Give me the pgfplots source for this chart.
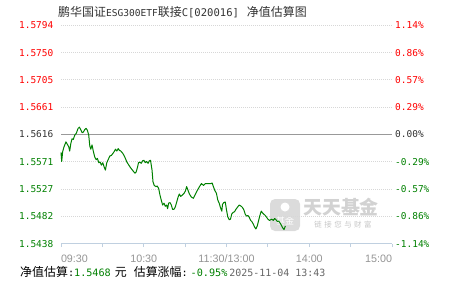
\documentclass[border=0pt]{standalone}
\usepackage{pgfplots}
\pgfplotsset{compat=1.18}
\usepackage{pgfplotstable}
\usepackage{fontspec}
\newfontfamily\cjk{Noto Sans CJK SC}
\newfontfamily\mono{DejaVu Sans Mono}
\newfontfamily\arial{Liberation Sans}
\definecolor{upred}{RGB}{255,0,0}
\definecolor{dngreen}{RGB}{0,128,0}
\definecolor{basecol}{RGB}{51,51,51}
\definecolor{axiscol}{RGB}{192,208,224}
\definecolor{gridcol}{RGB}{215,215,215}
\pgfplotstableread{
m v
0.0 1.5587
0.5 1.5572
1.2 1.5588
2.2 1.5596
3.6 1.5604
4.6 1.5600
5.6 1.5596
6.3 1.5589
7.1 1.5601
8.0 1.5609
8.9 1.5608
10.0 1.5615
11.1 1.5618
12.4 1.5626
13.3 1.5628
14.3 1.5624
15.3 1.5619
16.2 1.5620
17.2 1.5624
18.2 1.5626
19.1 1.5623
20.1 1.5615
20.9 1.5597
21.6 1.5592
22.5 1.5599
23.5 1.5588
24.5 1.5579
25.5 1.5575
26.4 1.5577
27.4 1.5570
28.4 1.5571
29.3 1.5566
30.3 1.5570
31.3 1.5563
32.2 1.5558
33.2 1.5570
34.2 1.5575
35.4 1.5581
36.6 1.5582
37.6 1.5585
38.5 1.5588
39.5 1.5592
40.5 1.5589
41.5 1.5593
42.4 1.5590
43.4 1.5589
44.9 1.5585
46.3 1.5579
47.8 1.5571
49.2 1.5566
50.7 1.5561
52.1 1.5557
53.6 1.5553
54.5 1.5555
55.5 1.5563
56.2 1.5570
57.2 1.5571
58.2 1.5569
59.1 1.5573
60.1 1.5574
61.1 1.5570
62.0 1.5572
63.1 1.5569
64.0 1.5573
64.9 1.5574
66.0 1.5558
66.7 1.5539
67.6 1.5533
68.9 1.5531
69.8 1.5532
70.8 1.5528
71.8 1.5517
72.7 1.5509
73.7 1.5501
74.7 1.5504
75.6 1.5499
76.6 1.5501
77.3 1.5495
78.0 1.5504
79.1 1.5505
80.0 1.5501
80.9 1.5494
81.9 1.5494
82.9 1.5498
83.9 1.5506
84.9 1.5514
85.8 1.5519
86.8 1.5515
87.8 1.5517
89.2 1.5520
90.2 1.5524
91.1 1.5531
92.1 1.5525
93.1 1.5519
94.5 1.5514
96.0 1.5512
97.5 1.5519
98.9 1.5525
100.4 1.5531
101.8 1.5536
103.3 1.5533
104.7 1.5536
106.7 1.5536
108.6 1.5536
109.6 1.5537
110.5 1.5531
111.5 1.5525
112.7 1.5520
113.7 1.5509
114.7 1.5504
115.6 1.5497
116.6 1.5491
117.1 1.5502
118.0 1.5505
119.1 1.5506
120.0 1.5493
120.9 1.5482
122.0 1.5477
122.9 1.5478
123.9 1.5487
124.9 1.5489
125.8 1.5490
126.8 1.5494
127.8 1.5497
129.2 1.5501
130.7 1.5499
131.6 1.5497
132.6 1.5493
133.6 1.5486
134.5 1.5483
135.5 1.5484
136.5 1.5481
137.5 1.5476
138.4 1.5474
139.4 1.5470
140.4 1.5465
141.3 1.5462
142.3 1.5467
143.3 1.5476
144.2 1.5484
145.2 1.5491
146.2 1.5488
147.1 1.5486
148.1 1.5484
149.1 1.5481
150.0 1.5478
151.1 1.5476
152.0 1.5477
152.9 1.5478
153.9 1.5476
154.9 1.5479
155.9 1.5477
156.9 1.5474
157.8 1.5475
158.8 1.5472
159.8 1.5468
160.7 1.5464
161.7 1.5461
162.7 1.5467
}\navdata
\begin{document}
\begin{tikzpicture}[x=1bp,y=1bp]
\path[use as bounding box] (0,0) rectangle (451,281);
% title
\node[anchor=west, inner sep=0pt, text=basecol] at (58,269)
  {\cjk\fontsize{12}{12}\selectfont 鹏华国证{\mono\fontsize{9.6}{12}\selectfont ESG300ETF}联接{\mono\fontsize{10.6}{12}\selectfont C[020016]}\hspace{8bp}净值估算图};
% watermark
\fill[gray!40, rounded corners=5bp, opacity=0.7] (270,50) rectangle (300,82);
\fill[white] (285,74) circle (4.5bp);
\node[text=white, inner sep=0pt] at (285,60) {\cjk\fontsize{9}{9}\selectfont 基金};
\node[text=gray!35, inner sep=0pt] at (341,74) {\cjk\bfseries\fontsize{19}{19}\selectfont 天天基金};
\node[text=gray!45, inner sep=0pt] at (343,56) {\cjk\fontsize{7.5}{8}\selectfont 链\,\,接\,\,您\,\,与\,\,财\,\,富};
\begin{axis}[
  at={(61bp,37.3bp)}, anchor=south west,
  scale only axis, width=331bp, height=218.4bp,
  xmin=0, xmax=240,
  ymin=1.5437976, ymax=1.5794024,
  axis lines*=left,
  y axis line style={draw=none},
  x axis line style={draw=axiscol, line width=0.8bp, -},
  xtick={0,30,...,240},
  xticklabels={\rlap{09:30},,10:30,,11:30/13:00,,14:00,,\llap{15:00}},
  xticklabel style={font=\arial\fontsize{10.8}{11}\selectfont, text=black!42, anchor=base, inner sep=0pt, yshift=-15bp},
  tick align=outside,
  xtick style={draw=axiscol, line width=0.8bp},
  major tick length=3.5bp,
  ytick={1.5437976,1.5482482,1.5526988,1.5571494,1.5660506,1.5705012,1.5749518,1.5794024},
  yticklabels={\textcolor{dngreen}{1.5438},\textcolor{dngreen}{1.5482},\textcolor{dngreen}{1.5527},\textcolor{dngreen}{1.5571},\textcolor{upred}{1.5661},\textcolor{upred}{1.5705},\textcolor{upred}{1.5750},\textcolor{upred}{1.5794}},
  yticklabel style={font=\mono\fontsize{9.5}{10}\selectfont, anchor=east, inner sep=0pt, xshift=-4bp},
  ytick style={draw=none},
  ymajorgrids,
  major grid style={draw=gridcol, line width=0.8bp, dash pattern=on 1bp off 1bp},
  extra y ticks={1.5616},
  extra y tick labels={\textcolor{basecol}{1.5616}},
  extra y tick style={grid=major, major grid style={draw=black!40, solid, line width=1bp}, ytick style={draw=none}},
  clip=false,
]
\addplot[color=dngreen, line width=1bp, line join=round] table[x=m, y=v] {\navdata};
\end{axis}
\begin{axis}[
  at={(61bp,37.3bp)}, anchor=south west,
  scale only axis, width=331bp, height=218.4bp,
  xmin=0, xmax=240,
  ymin=-1.14, ymax=1.14,
  hide x axis,
  axis y line*=right,
  y axis line style={draw=none},
  ytick style={draw=none},
  ytick={-1.14,-0.855,-0.57,-0.285,0,0.285,0.57,0.855,1.14},
  yticklabels={\textcolor{dngreen}{-1.14\%},\textcolor{dngreen}{-0.86\%},\textcolor{dngreen}{-0.57\%},\textcolor{dngreen}{-0.29\%},\textcolor{basecol}{0.00\%},\textcolor{upred}{0.29\%},\textcolor{upred}{0.57\%},\textcolor{upred}{0.86\%},\textcolor{upred}{1.14\%}},
  yticklabel style={font=\mono\fontsize{9.5}{10}\selectfont, anchor=west, inner sep=0pt, xshift=3bp},
]
\addplot[draw=none] coordinates {(0,0)};
\end{axis}
% footer
\node[anchor=west, inner sep=0pt] at (20,9.3)
  {\cjk\fontsize{12}{12}\selectfont 净值估算{\mono\fontsize{10.2}{12}\selectfont :\color{dngreen}1.5468}\hspace{4bp}元\hspace{7bp}估算涨幅{\mono\fontsize{10.2}{12}\selectfont :\hspace{3bp}\color{dngreen}-0.95\%}\hspace{2bp}{\mono\fontsize{10}{12}\selectfont\color{black!60}2025-11-04 13:43}};
\end{tikzpicture}
\end{document}
